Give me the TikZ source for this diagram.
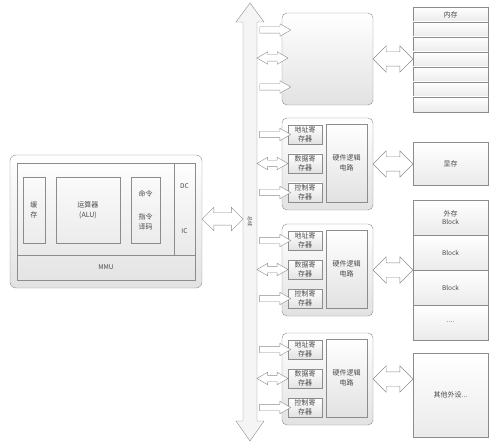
\documentclass[tikz,border=0pt]{standalone}
\usepackage{fontspec}
\newfontfamily\cjk{Noto Sans CJK SC}
\usetikzlibrary{shapes.arrows,positioning}
\definecolor{edge}{HTML}{8C8C8C}
\definecolor{shade}{HTML}{E2E2E2}
\definecolor{ink}{HTML}{4A4A4A}
\begin{document}
\begin{tikzpicture}[x=1pt,y=-1pt,
  every node/.style={font=\cjk\fontsize{7}{9.5}\selectfont, text=ink, inner sep=0pt, align=center},
  box/.style={draw=edge, rounded corners=5pt, top color=white, bottom color=shade, minimum width=91pt, minimum height=92pt},
  regbox/.style={draw=edge, top color=white, bottom color=shade, minimum width=34pt, minimum height=19pt},
  cell/.style={draw=edge, top color=white, bottom color=shade!70, minimum width=75pt},
  rarrow/.style={single arrow, draw=edge, fill=white, inner ysep=3pt, minimum width=12pt, single arrow head extend=3pt, single arrow tip angle=60, minimum height=31pt},
  darrow/.style={double arrow, draw=edge, fill=white, inner ysep=3pt, minimum width=12pt, double arrow head extend=3pt, double arrow tip angle=60, minimum height=31pt},
  sidearrow/.style={double arrow, draw=edge, fill=white, inner ysep=7pt, minimum width=26pt, double arrow head extend=6pt, minimum height=40pt}]
\useasboundingbox (0,0) rectangle (499,444);
% bus
\draw[edge, fill=black!4] (250,3) -- (264,22) -- (257,22) -- (257,421) -- (264,421) -- (250,441)
  -- (236,421) -- (243,421) -- (243,22) -- (236,22) -- cycle;
\coordinate (busr) at (257,0);
\coordinate (busl) at (243,0);
\node[rotate=-90, font=\cjk\fontsize{5}{6}\selectfont] (busname) at (250,222) {总线};
% controllers
\node[box] (box1) at (327.5,59) {};
\coordinate (in1) at (288,30);
\coordinate (in2) at (288,58);
\coordinate (in3) at (288,87);
\path (busr |- in1) -- (in1) node[midway,rarrow]{};
\path (busr |- in2) -- (in2) node[midway,darrow]{};
\path (busr |- in3) -- (in3) node[midway,rarrow]{};
\foreach \g/\t in {2/118,3/224,4/333}{
  \node[box] (box\g) at (327.5,\t+46) {};
  \node[regbox] (addr\g) at (305,\t+16.5) {地址寄\\存器};
  \node[regbox] (data\g) at (305,\t+45.5) {数据寄\\存器};
  \node[regbox] (ctrl\g) at (305,\t+74.5) {控制寄\\存器};
  \node[regbox, minimum width=41pt, minimum height=78pt] (logic\g) at (346.5,\t+45) {硬件逻辑\\电路};
  \path (busr |- addr\g.west) -- (addr\g.west) node[midway,rarrow]{};
  \path (busr |- data\g.west) -- (data\g.west) node[midway,darrow]{};
  \path (busr |- ctrl\g.west) -- (ctrl\g.west) node[midway,rarrow]{};
}
% devices
\foreach \i in {0,...,6}
  \node[cell, minimum height=15pt] (mem\i) at (450.5,14.5+15*\i) {};
\node at (mem0) {内存};
\node[cell, minimum height=43pt] (vram) at (450.5,163.5) {显存};
\node[cell, minimum height=35pt] (blk1) at (450.5,217.5) {外存\\[-2pt]\fontsize{6.5}{8}\selectfont Block};
\node[cell, minimum height=35pt, font=\cjk\fontsize{6.5}{8}\selectfont] (blk2) at (450.5,252.5) {Block};
\node[cell, minimum height=35pt, font=\cjk\fontsize{6.5}{8}\selectfont] (blk3) at (450.5,287.5) {Block};
\node[cell, minimum height=35pt] (blk4) at (450.5,322.5) {....};
\node[cell, minimum height=84pt] (other) at (450.5,395) {其他外设...};
\path (box1.east) -- (mem0.west |- box1.east) node[midway,sidearrow]{};
\path (box2.east) -- (vram.west |- box2.east) node[midway,sidearrow]{};
\path (box3.east) -- (blk1.west |- box3.east) node[midway,sidearrow]{};
\path (box4.east) -- (other.west |- box4.east) node[midway,sidearrow]{};
% cpu
\node[draw=edge, rounded corners=6pt, top color=white, bottom color=shade, minimum width=192pt, minimum height=133pt] (cpu) at (106,221.5) {};
\draw[edge] (17,163) rectangle (195,280) (17,255) -- (195,255) (174,163) -- (174,255);
\node[draw=edge, minimum width=22pt, minimum height=66pt] (cache) at (34,210) {缓\\存};
\node[draw=edge, minimum width=64pt, minimum height=66pt] (alu) at (88,210) {运算器\\(ALU)};
\node[draw=edge, minimum width=29pt, minimum height=66pt] (inst) at (145.5,210) {命令\\[14pt]指令\\译码};
\node[font=\cjk\fontsize{6.5}{8}\selectfont] (dc) at (184.5,186) {DC};
\node[font=\cjk\fontsize{6.5}{8}\selectfont] (ic) at (184.5,231) {IC};
\node[font=\cjk\fontsize{6.5}{8}\selectfont] (mmu) at (106,267.5) {MMU};
\path (cpu.east |- 0,219) -- (busl |- 0,219) node[midway,sidearrow,inner ysep=6pt,minimum height=41pt,minimum width=23pt,double arrow head extend=5.5pt]{};
\end{tikzpicture}
\end{document}
